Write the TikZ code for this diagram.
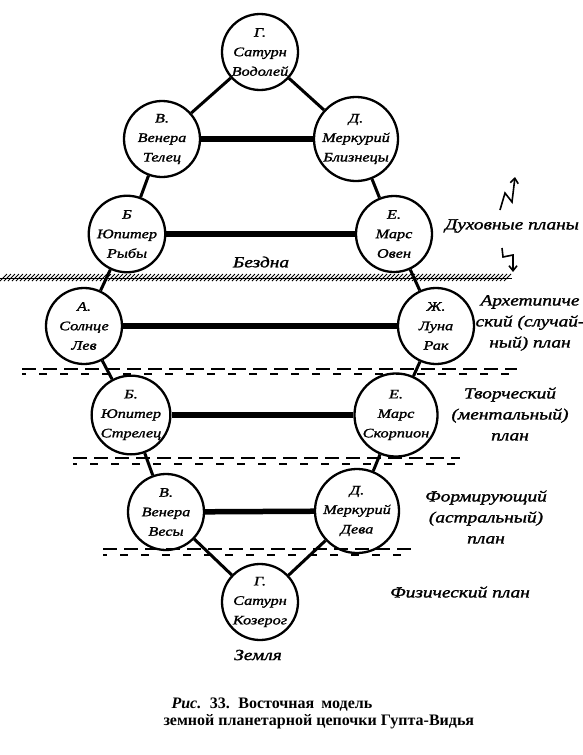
\documentclass[tikz,border=0pt]{standalone}
\usepackage{fontspec}
\setmainfont{Liberation Serif}
\newfontfamily\hand{Liberation Serif}[FakeStretch=1.25,FakeBold=1.5,
  ItalicFeatures={FakeStretch=1.25,FakeBold=1.5}]
\usetikzlibrary{arrows.meta}
\begin{document}
\begin{tikzpicture}[x=1pt,y=-1pt,
  planet/.style={circle,draw,line width=2.3pt,minimum size=76pt,inner sep=0pt,align=center,
    font=\hand\itshape\fontsize{13}{19.5}\selectfont},
  link/.style={line width=3pt},
  bar/.style={line width=5.5pt},
  lbl/.style={align=center,font=\hand\itshape\fontsize{15.5}{21}\selectfont},
  dashtop/.style={line width=1.8pt,dash pattern=on 14pt off 7pt},
  dashbot/.style={line width=1.3pt,dash pattern=on 8pt off 13pt,dash phase=4pt},
  zig/.style={line width=1.6pt,-{Straight Barb[length=5pt,width=8pt]}},
  capt/.style={anchor=base west,font=\bfseries\fontsize{16}{18}\selectfont}
]
\useasboundingbox (0,0) rectangle (583,755);

% hatched band (Бездна boundary)
\foreach \x in {0,4,...,506} \draw[line width=0.9pt] (\x,281) -- (\x+7,274);
\draw[line width=0.8pt] (0,278) -- (512,278);

% dashed plane boundaries
\draw[dashtop] (22,369) -- (517,369);
\draw[dashbot] (22,374) -- (517,374);
\draw[dashtop] (73,458) -- (460,458);
\draw[dashbot] (73,464) -- (460,464);
\draw[dashtop] (103,549) -- (413,549);
\draw[dashbot] (103,555) -- (413,555);

% planets
\node[planet] (g1) at (260,52)  {Г.\\Сатурн\\Водолей};
\node[planet] (v1) at (162,139) {В.\\Венера\\Телец};
\node[planet] (d1) at (356,139) {Д.\\Меркурий\\Близнецы};
\node[planet] (b1) at (127,234) {Б\\Юпитер\\Рыбы};
\node[planet] (e1) at (394,234) {Е.\\Марс\\Овен};
\node[planet] (a)  at (84,326)  {А.\\Солнце\\Лев};
\node[planet] (zh) at (436,326) {Ж.\\Луна\\Рак};
\node[planet] (b2) at (131,415) {Б.\\Юпитер\\Стрелец};
\node[planet] (e2) at (396,415) {Е.\\Марс\\Скорпион};
\node[planet] (v2) at (166,512) {В.\\Венера\\Весы};
\node[planet] (d2) at (357,511) {Д.\\Меркурий\\Дева};
\node[planet] (g2) at (260,602) {Г.\\Сатурн\\Козерог};

% chain links
\draw[link] (g1) -- (v1);
\draw[link] (g1) -- (d1);
\draw[link] (v1) -- (b1);
\draw[link] (d1) -- (e1);
\draw[link] (b1) -- (a);
\draw[link] (e1) -- (zh);
\draw[link] (a) -- (b2);
\draw[link] (zh) -- (e2);
\draw[link] (b2) -- (v2);
\draw[link] (e2) -- (d2);
\draw[link] (v2) -- (g2);
\draw[link] (d2) -- (g2);

% horizontal bars
\draw[bar] (v1) -- (d1);
\draw[bar] (b1) -- (e1);
\draw[bar] (a) -- (zh);
\draw[bar] (b2) -- (e2);
\draw[bar] (v2) -- (d2);

% zigzag arrows
\draw[zig] (500,210) -- (505,193) -- (512,202) -- (515,177);
\draw[zig] (502,248) -- (503,257) -- (513,255) -- (513,272);

% labels
\node[lbl] (bez)  at (261,262) {Бездна};
\node[lbl] (dux)  at (512,226) {Духовные планы};
\node[lbl] (arx)  at (530,323) {Архетипиче\\ский (случай-\\ный) план};
\node[lbl] (tvor) at (510,414) {Творческий\\(ментальный)\\план};
\node[lbl] (form) at (486,517) {Формирующий\\(астральный)\\план};
\node[lbl] (fiz)  at (460,592) {Физический план};
\node[lbl] (zem)  at (258,655) {Земля};

% caption
\node[capt] (cap1) at (168,708) {\spaceskip=0.45em\textit{Рис.} 33. Восточная модель};
\node[capt] (cap2) at (160,725) {земной планетарной цепочки Гупта-Видья};
\end{tikzpicture}
\end{document}
